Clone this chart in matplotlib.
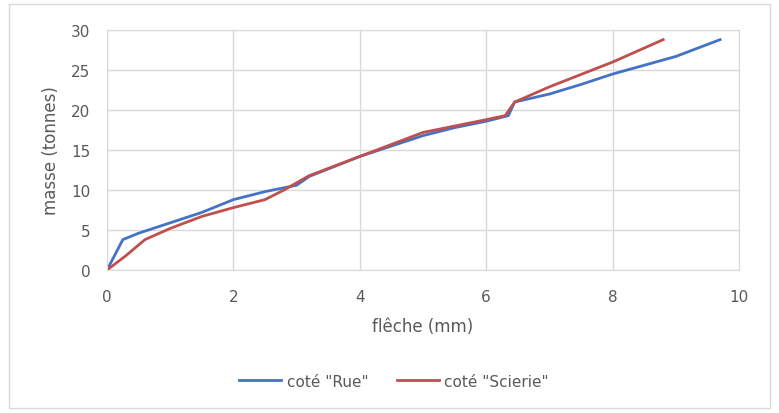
import matplotlib
matplotlib.use("Agg")
import matplotlib.pyplot as plt
from matplotlib.patches import Rectangle

rue_x = [0, 0.25, 0.5, 1.0, 1.5, 2.0, 2.5, 3.0, 3.2, 4.0, 5.0, 5.5, 6.0, 6.35, 6.45, 7.0, 7.5, 8.0, 9.0, 9.7]
rue_y = [0, 3.8, 4.6, 5.9, 7.2, 8.8, 9.8, 10.6, 11.7, 14.2, 16.8, 17.8, 18.6, 19.3, 21.0, 22.0, 23.2, 24.5, 26.7, 28.8]
sci_x = [0, 0.3, 0.6, 1.0, 1.5, 2.0, 2.5, 2.8, 3.2, 4.0, 5.0, 5.5, 6.0, 6.3, 6.45, 7.0, 8.0, 8.8]
sci_y = [0, 1.8, 3.8, 5.2, 6.7, 7.8, 8.8, 10.0, 11.8, 14.2, 17.2, 18.0, 18.8, 19.3, 21.0, 22.9, 26.0, 28.8]

x_ticks = [0, 2, 4, 6, 8, 10]
y_ticks = [0, 5, 10, 15, 20, 25, 30]

fig = plt.figure(figsize=(7.79, 4.14), dpi=100)
fig.patches.append(Rectangle((0.012, 0.012), 0.976, 0.976, transform=fig.transFigure,
                             fill=False, edgecolor='#d9d9d9', linewidth=1))
ax = fig.add_axes([0.1374, 0.3454, 0.8113, 0.5796])
ax.plot(rue_x, rue_y, color='#4472c4', linewidth=2, label='coté "Rue"')
ax.plot(sci_x, sci_y, color='#c0504d', linewidth=2, label='coté "Scierie"')
ax.set_xlim(0, 10)
ax.set_ylim(0, 30)
ax.set_xticks(x_ticks)
ax.set_yticks(y_ticks)
ax.grid(True, color='#d9d9d9', linewidth=1)
ax.set_axisbelow(True)
for s in ax.spines.values():
    s.set_color('#d9d9d9')
ax.tick_params(length=0, colors='#595959', labelsize=11)
ax.tick_params(axis='x', pad=14)
ax.tick_params(axis='y', pad=12)
ax.set_xlabel('flêche (mm)', color='#595959', fontsize=12, labelpad=9)
ax.set_ylabel('masse (tonnes)', color='#595959', fontsize=12, labelpad=8)
fig.legend(loc='center', bbox_to_anchor=(0.506, 0.077), ncol=2, frameon=False,
           fontsize=11, labelcolor='#595959', handlelength=2.75, handletextpad=0.33, columnspacing=1.9)
fig.savefig('out.png', dpi=100)
